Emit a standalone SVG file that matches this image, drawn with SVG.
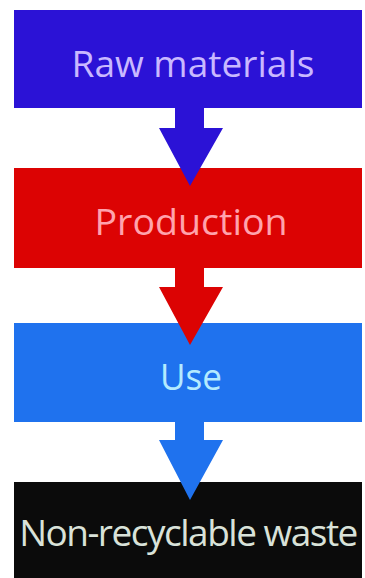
<svg xmlns="http://www.w3.org/2000/svg" width="365" height="578" viewBox="0 0 365 578">
<style>
.lbl{font-family:"Open Sans","Noto Sans","Liberation Sans",sans-serif;font-size:37px;text-anchor:middle}
</style>
<rect width="365" height="578" fill="#ffffff"/>
<g id="raw"><rect x="14" y="10" width="348" height="98" fill="#2b12d6"/><text class="lbl" x="193" y="77" fill="#c9b8ff" font-size="36" textLength="243" lengthAdjust="spacingAndGlyphs">Raw materials</text></g>
<g id="production"><rect x="14" y="168" width="348" height="100" fill="#dc0303"/><text class="lbl" x="191" y="235" fill="#ffa3ad" textLength="193" lengthAdjust="spacingAndGlyphs">Production</text></g>
<g id="use"><rect x="14" y="323" width="348" height="99" fill="#1f72ee"/><text class="lbl" x="191" y="390" fill="#b4eaff" textLength="62" lengthAdjust="spacingAndGlyphs">Use</text></g>
<g id="waste"><rect x="14" y="482" width="348" height="96" fill="#0b0b0b"/><text class="lbl" x="188" y="546" fill="#d9e2d9" font-size="34" letter-spacing="-1.5">Non-recyclable waste</text></g>
<g id="connectors">
<polygon points="175,107 204,107 204,128 223,128 190,186 159,128 175,128" fill="#2b12d6"/>
<polygon points="175,267 204,267 204,287 223,287 190,345 159,287 175,287" fill="#dc0303"/>
<polygon points="175,421 204,421 204,440 223,440 190,500 159,440 175,440" fill="#1f72ee"/>
</g>
</svg>
